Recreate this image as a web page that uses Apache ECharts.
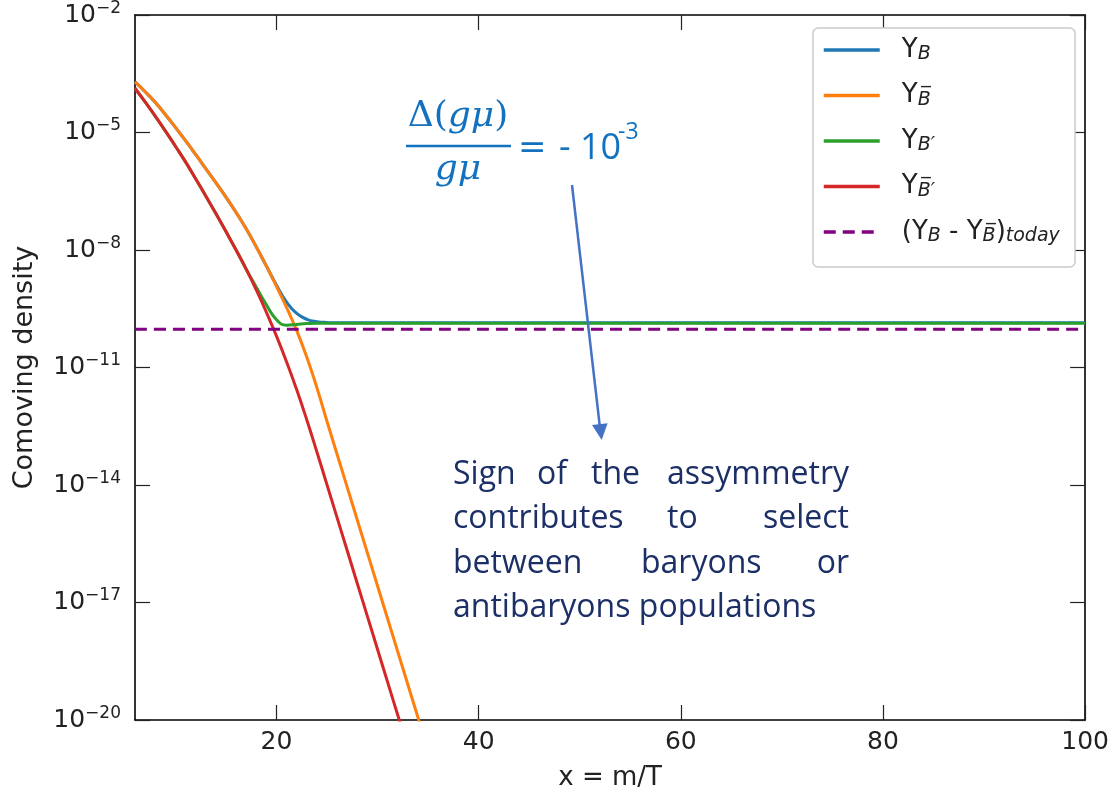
<!DOCTYPE html>
<html><head><meta charset="utf-8">
<script src="https://cdn.jsdelivr.net/npm/echarts@6/dist/echarts.min.js"></script>
<style>html,body{margin:0;padding:0;background:#fff}#c{width:1112px;height:796px}</style>
</head><body><div id="c"></div>
<script>
// ---- data ----
const xYB = [6,7,8,9,10,11,12,13,14,15,16,17,18,19,20,21,22,23,24,25,26,100];
const yYB = [1.95e-4,1.10e-4,5.89e-5,2.88e-5,1.35e-5,6.17e-6,2.75e-6,1.20e-6,5.25e-7,2.24e-7,9.12e-8,3.47e-8,1.20e-8,3.89e-9,1.26e-9,4.68e-10,2.40e-10,1.70e-10,1.48e-10,1.41e-10,1.38e-10,1.38e-10];

const xYBbar = [6,7,8,9,10,11,12,13,14,15,16,17,18,19,20,21,22,23,24,25,26,27,28,29,30,31,32,33,34,35];
const yYBbar = [1.95e-4,1.10e-4,5.89e-5,2.88e-5,1.35e-5,6.17e-6,2.75e-6,1.20e-6,5.25e-7,2.24e-7,9.12e-8,3.47e-8,1.20e-8,3.89e-9,1.17e-9,3.39e-10,8.71e-11,1.82e-11,3.02e-12,4.17e-13,6.03e-14,8.71e-15,1.26e-15,1.82e-16,2.63e-17,3.80e-18,5.50e-19,7.94e-20,1.15e-20,1.66e-21];

const xYBp = [6,7,8,9,10,11,12,13,14,15,16,17,18,19,20,21,22,23,24,100];
const yYBp = [1.35e-4,6.03e-5,2.63e-5,1.10e-5,4.47e-6,1.78e-6,6.61e-7,2.40e-7,8.51e-8,2.95e-8,1.00e-8,3.24e-9,1.12e-9,3.98e-10,1.66e-10,1.20e-10,1.26e-10,1.32e-10,1.35e-10,1.35e-10];

const xYBpbar = [6,7,8,9,10,11,12,13,14,15,16,17,18,19,20,21,22,23,24,25,26,27,28,29,30,31,32,33];
const yYBpbar = [1.35e-4,6.03e-5,2.63e-5,1.10e-5,4.47e-6,1.78e-6,6.61e-7,2.40e-7,8.51e-8,2.95e-8,1.00e-8,3.24e-9,9.55e-10,2.57e-10,6.31e-11,1.38e-11,2.69e-12,4.57e-13,6.92e-14,1.00e-14,1.45e-15,2.09e-16,3.02e-17,4.37e-18,6.31e-19,9.12e-20,1.32e-20,1.91e-21];

const xToday = [6, 100];
const yToday = [9.5e-11, 9.5e-11];

const xTicks = [20, 40, 60, 80, 100];
const yTickExponents = [-20, -17, -14, -11, -8, -5, -2];

const seriesNames = ['YB', 'YBbar', 'YBp', 'YBpbar', 'today'];
const legendLabels = {
  YB: 'Y{s|B}',
  YBbar: 'Y{s|B\u0305}',
  YBp: 'Y{s|B\u2032}',
  YBpbar: 'Y{s|B\u0305\u2032}',
  today: '(Y{s|B} - Y{s|B\u0305}){s|today}'
};
const colors = ['#1f77b4', '#ff7f0e', '#2ca02c', '#d62728', '#800080'];

// ---- chart ----
const zip = (xs, ys) => xs.map((x, i) => [x, ys[i]]);
const chart = echarts.init(document.getElementById('c'), null, {renderer: 'canvas'});
const FONT = 'DejaVu Sans';
const tickStyle = {show: true, inside: true, length: 15, lineStyle: {color: '#222', width: 1.2}};
const lineAx = {show: true, onZero: false, lineStyle: {color: '#000', width: 1.6}};

function supLabel(v) {
  const e = Math.round(Math.log10(v));
  return '{b|10}{sup|' + (e < 0 ? '\u2212' : '') + Math.abs(e) + '}';
}
const yMin = Math.pow(10, yTickExponents[0]);
const yMax = Math.pow(10, yTickExponents[yTickExponents.length - 1]);

function lineSeries(name, xs, ys, color, dashed) {
  return {
    name: name, type: 'line', data: zip(xs, ys), symbol: 'none', showSymbol: false,
    smooth: 0.5, clip: true,
    lineStyle: {color: color, width: 3, type: dashed ? [12, 7] : 'solid'},
    itemStyle: {color: color},
    z: 2
  };
}

const option = {
  animation: false,
  backgroundColor: '#ffffff',
  grid: {left: 135, right: 24, top: 14, bottom: 73, containLabel: false},
  xAxis: [
    {type: 'value', min: 6, max: 100, position: 'bottom',
     axisLine: lineAx, axisTick: Object.assign({customValues: xTicks}, tickStyle),
     axisLabel: {customValues: xTicks, fontSize: 25, color: '#222', fontFamily: FONT, margin: 10},
     splitLine: {show: false},
     name: 'x = m/T', nameLocation: 'middle', nameGap: 45,
     nameTextStyle: {fontSize: 26, color: '#222', fontFamily: FONT}},
    {type: 'value', min: 6, max: 100, position: 'top',
     axisLine: lineAx, axisTick: Object.assign({customValues: xTicks}, tickStyle),
     axisLabel: {show: false}, splitLine: {show: false}}
  ],
  yAxis: [
    {type: 'log', logBase: 10, min: yMin, max: yMax, interval: 3, position: 'left',
     axisLine: lineAx, axisTick: tickStyle,
     axisLabel: {formatter: supLabel, margin: 14, color: '#222',
       rich: {b: {fontSize: 25, fontFamily: FONT, color: '#222', lineHeight: 30},
              sup: {fontSize: 17, fontFamily: FONT, color: '#222', verticalAlign: 'top', lineHeight: 20}}},
     splitLine: {show: false}, minorTick: {show: false},
     name: 'Comoving density', nameLocation: 'middle', nameGap: 97,
     nameTextStyle: {fontSize: 27, color: '#222', fontFamily: FONT}},
    {type: 'log', logBase: 10, min: yMin, max: yMax, interval: 3, position: 'right',
     axisLine: lineAx, axisTick: tickStyle, axisLabel: {show: false},
     splitLine: {show: false}}
  ],
  legend: {
    orient: 'vertical', left: 822, top: 36, padding: 0,
    itemWidth: 56, itemHeight: 28, itemGap: 17.5,
    data: seriesNames,
    formatter: n => legendLabels[n],
    itemStyle: {color: 'rgba(0,0,0,0)', borderWidth: 0, opacity: 0},
    lineStyle: {width: 3.5},
    textStyle: {fontFamily: FONT, fontSize: 26, color: '#222', lineHeight: 28, padding: [0, 0, 0, 17],
      rich: {s: {fontFamily: FONT, fontSize: 19, fontStyle: 'italic', color: '#222', verticalAlign: 'bottom', lineHeight: 16}}},
    z: 6
  },
  series: [
    lineSeries('YB', xYB, yYB, colors[0]),
    lineSeries('YBbar', xYBbar, yYBbar, colors[1]),
    lineSeries('YBp', xYBp, yYBp, colors[2]),
    lineSeries('YBpbar', xYBpbar, yYBpbar, colors[3]),
    lineSeries('today', xToday, yToday, colors[4], true)
  ],
  graphic: [
    {type: 'rect', shape: {x: 813, y: 28, width: 262, height: 239, r: 5}, style: {fill: '#fff', stroke: '#cccccc', lineWidth: 1.5}, z: 5},
    // formula
    {type: 'text', x: 458, y: 117, z: 10, style: {text: '{u|\u0394(}{i|g\u03bc}{u|)}', align: 'center', verticalAlign: 'middle',
      rich: {u: {fontFamily: 'DejaVu Serif', fontSize: 36, fill: '#1272C0'}, i: {fontFamily: 'DejaVu Serif', fontStyle: 'italic', fontSize: 36, fill: '#1272C0'}}}},
    {type: 'line', z: 10, shape: {x1: 406, y1: 146, x2: 511, y2: 146}, style: {stroke: '#1272C0', lineWidth: 2.5}},
    {type: 'text', x: 458, y: 170, z: 10, style: {text: 'g\u03bc', align: 'center', verticalAlign: 'middle', fontFamily: 'DejaVu Serif', fontStyle: 'italic', fontSize: 36, fill: '#1272C0'}},
    {type: 'text', x: 518, y: 149, z: 10, style: {text: '=', align: 'left', verticalAlign: 'middle', fontFamily: 'DejaVu Sans', fontSize: 34, fill: '#1272C0'}},
    {type: 'text', x: 559, y: 149, z: 10, style: {text: '- 10', align: 'left', verticalAlign: 'middle', fontFamily: 'Open Sans', fontSize: 36, fill: '#1272C0'}},
    {type: 'text', x: 618, y: 132, z: 10, style: {text: '-3', align: 'left', verticalAlign: 'middle', fontFamily: 'Open Sans', fontSize: 23, fill: '#1272C0'}},
    // arrow
    {type: 'line', z: 10, shape: {x1: 572, y1: 185, x2: 600, y2: 428}, style: {stroke: '#4472C4', lineWidth: 2.5}},
    {type: 'polygon', z: 10, shape: {points: [[601.7, 440], [592, 425], [607.6, 423.2]]}, style: {fill: '#4472C4'}},
    // justified note
    {type: 'text', x: 453, y: 475, z: 10, style: {text: 'Sign', align: 'left', verticalAlign: 'middle', fontFamily: 'Open Sans', fontSize: 32, fill: '#1c2f66'}},
    {type: 'text', x: 537, y: 475, z: 10, style: {text: 'of', align: 'left', verticalAlign: 'middle', fontFamily: 'Open Sans', fontSize: 32, fill: '#1c2f66'}},
    {type: 'text', x: 591, y: 475, z: 10, style: {text: 'the', align: 'left', verticalAlign: 'middle', fontFamily: 'Open Sans', fontSize: 32, fill: '#1c2f66'}},
    {type: 'text', x: 849, y: 475, z: 10, style: {text: 'assymmetry', align: 'right', verticalAlign: 'middle', fontFamily: 'Open Sans', fontSize: 32, fill: '#1c2f66'}},
    {type: 'text', x: 453, y: 519, z: 10, style: {text: 'contributes', align: 'left', verticalAlign: 'middle', fontFamily: 'Open Sans', fontSize: 32, fill: '#1c2f66'}},
    {type: 'text', x: 667, y: 519, z: 10, style: {text: 'to', align: 'left', verticalAlign: 'middle', fontFamily: 'Open Sans', fontSize: 32, fill: '#1c2f66'}},
    {type: 'text', x: 849, y: 519, z: 10, style: {text: 'select', align: 'right', verticalAlign: 'middle', fontFamily: 'Open Sans', fontSize: 32, fill: '#1c2f66'}},
    {type: 'text', x: 453, y: 564, z: 10, style: {text: 'between', align: 'left', verticalAlign: 'middle', fontFamily: 'Open Sans', fontSize: 32, fill: '#1c2f66'}},
    {type: 'text', x: 641, y: 564, z: 10, style: {text: 'baryons', align: 'left', verticalAlign: 'middle', fontFamily: 'Open Sans', fontSize: 32, fill: '#1c2f66'}},
    {type: 'text', x: 849, y: 564, z: 10, style: {text: 'or', align: 'right', verticalAlign: 'middle', fontFamily: 'Open Sans', fontSize: 32, fill: '#1c2f66'}},
    {type: 'text', x: 453, y: 608, z: 10, style: {text: 'antibaryons populations', align: 'left', verticalAlign: 'middle', fontFamily: 'Open Sans', fontSize: 32, fill: '#1c2f66'}}
  ]
};
chart.setOption(option);
</script>
</body></html>
